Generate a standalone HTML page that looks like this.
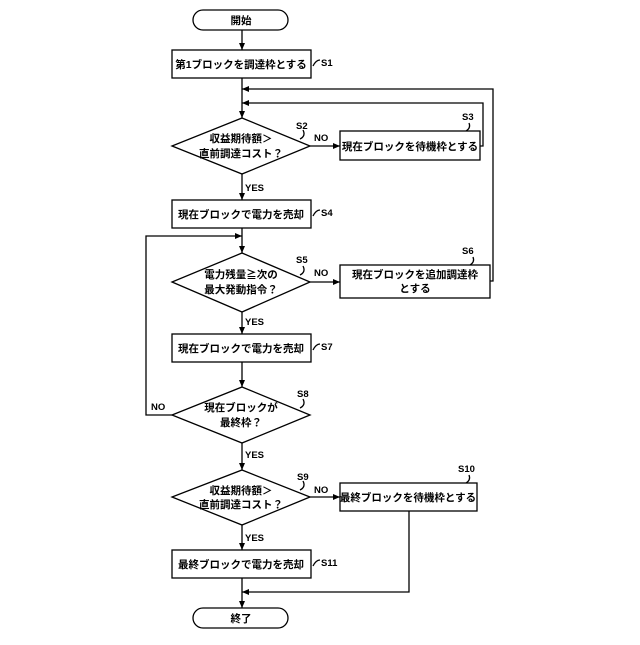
<!DOCTYPE html>
<html><head><meta charset="utf-8"><style>
body{margin:0;background:#fff}
svg text{font-family:"Liberation Sans","Noto Sans CJK JP",sans-serif;font-size:10.5px;fill:#000;font-weight:bold}
.l{font-size:9.5px}
</style></head><body>
<svg width="640" height="640" viewBox="0 0 640 640" xmlns="http://www.w3.org/2000/svg">
<defs><marker id="a" markerWidth="8" markerHeight="8" refX="7" refY="4" orient="auto" markerUnits="userSpaceOnUse"><path d="M0,1 L7,4 L0,7z" fill="#000"/></marker></defs>
<g stroke="#000" stroke-width="1.3" fill="#fff">
<rect x="193" y="10" width="95" height="20" rx="10"/>
<rect x="172" y="50" width="139" height="28"/>
<polygon points="242,118 310,146 242,174 172,146"/>
<rect x="340" y="131" width="140" height="29"/>
<rect x="172" y="200" width="139" height="28"/>
<polygon points="242,253 310,282 242,312 172,282"/>
<rect x="340" y="265" width="150" height="33"/>
<rect x="172" y="334" width="139" height="28"/>
<polygon points="242,387 310,415 242,443 172,415"/>
<polygon points="242,470 310,497 242,525 172,497"/>
<rect x="340" y="483" width="137" height="28"/>
<rect x="172" y="550" width="139" height="28"/>
<rect x="193" y="608" width="95" height="20" rx="10"/>
</g>
<g stroke="#000" stroke-width="1.3" fill="none">
<line x1="242" y1="30" x2="242" y2="50" marker-end="url(#a)"/>
<line x1="242" y1="78" x2="242" y2="118" marker-end="url(#a)"/>
<polyline points="490,281 493,281 493,89 242,89" marker-end="url(#a)"/>
<polyline points="480,146 483,146 483,103 242,103" marker-end="url(#a)"/>
<line x1="310" y1="146" x2="340" y2="146" marker-end="url(#a)"/>
<line x1="242" y1="174" x2="242" y2="200" marker-end="url(#a)"/>
<line x1="242" y1="228" x2="242" y2="253" marker-end="url(#a)"/>
<polyline points="172,415 146,415 146,236 242,236" marker-end="url(#a)"/>
<line x1="310" y1="282" x2="340" y2="282" marker-end="url(#a)"/>
<line x1="242" y1="312" x2="242" y2="334" marker-end="url(#a)"/>
<line x1="242" y1="362" x2="242" y2="387" marker-end="url(#a)"/>
<line x1="242" y1="443" x2="242" y2="470" marker-end="url(#a)"/>
<line x1="310" y1="497" x2="340" y2="497" marker-end="url(#a)"/>
<line x1="242" y1="525" x2="242" y2="550" marker-end="url(#a)"/>
<line x1="242" y1="578" x2="242" y2="608" marker-end="url(#a)"/>
<polyline points="409,511 409,592 242,592" marker-end="url(#a)"/>
<path d="M313,66 q3,-6 7,-6"/><path d="M313,216 q3,-6 7,-6"/><path d="M313,350 q3,-6 7,-6"/><path d="M313,566 q3,-6 7,-6"/>
<path d="M300,139 q6,-3 3,-9"/><path d="M300,275 q6,-3 3,-9"/><path d="M300,408 q6,-3 3,-9"/><path d="M300,490 q6,-3 3,-9"/>
<path d="M466,131 q5,-3 3,-8"/><path d="M470,265 q5,-3 3,-8"/><path d="M466,483 q5,-3 3,-8"/>
</g>
<g text-anchor="middle">
<text x="241" y="24">開始</text>
<text x="241" y="68">第1ブロックを調達枠とする</text>
<text x="241" y="142">収益期待額＞</text>
<text x="241" y="157">直前調達コスト？</text>
<text x="410" y="150">現在ブロックを待機枠とする</text>
<text x="241" y="218">現在ブロックで電力を売却</text>
<text x="241" y="278">電力残量≧次の</text>
<text x="241" y="293">最大発動指令？</text>
<text x="415" y="278">現在ブロックを追加調達枠</text>
<text x="415" y="292">とする</text>
<text x="241" y="352">現在ブロックで電力を売却</text>
<text x="241" y="411">現在ブロックが</text>
<text x="241" y="426">最終枠？</text>
<text x="241" y="494">収益期待額＞</text>
<text x="241" y="508">直前調達コスト？</text>
<text x="408" y="501">最終ブロックを待機枠とする</text>
<text x="241" y="568">最終ブロックで電力を売却</text>
<text x="241" y="622">終了</text>
</g>
<g class="l">
<text class="l" x="321" y="66">S1</text><text class="l" x="321" y="216">S4</text><text class="l" x="321" y="350">S7</text><text class="l" x="321" y="566">S11</text>
<text class="l" x="296" y="129">S2</text><text class="l" x="296" y="263">S5</text><text class="l" x="297" y="397">S8</text><text class="l" x="297" y="480">S9</text>
<text class="l" x="462" y="120">S3</text><text class="l" x="462" y="254">S6</text><text class="l" x="458" y="472">S10</text>
<text class="l" x="314" y="141">NO</text><text class="l" x="314" y="276">NO</text><text class="l" x="314" y="493">NO</text><text class="l" x="151" y="410">NO</text>
<text class="l" x="245" y="191">YES</text><text class="l" x="245" y="325">YES</text><text class="l" x="245" y="458">YES</text><text class="l" x="245" y="541">YES</text>
</g>
</svg>
</body></html>
